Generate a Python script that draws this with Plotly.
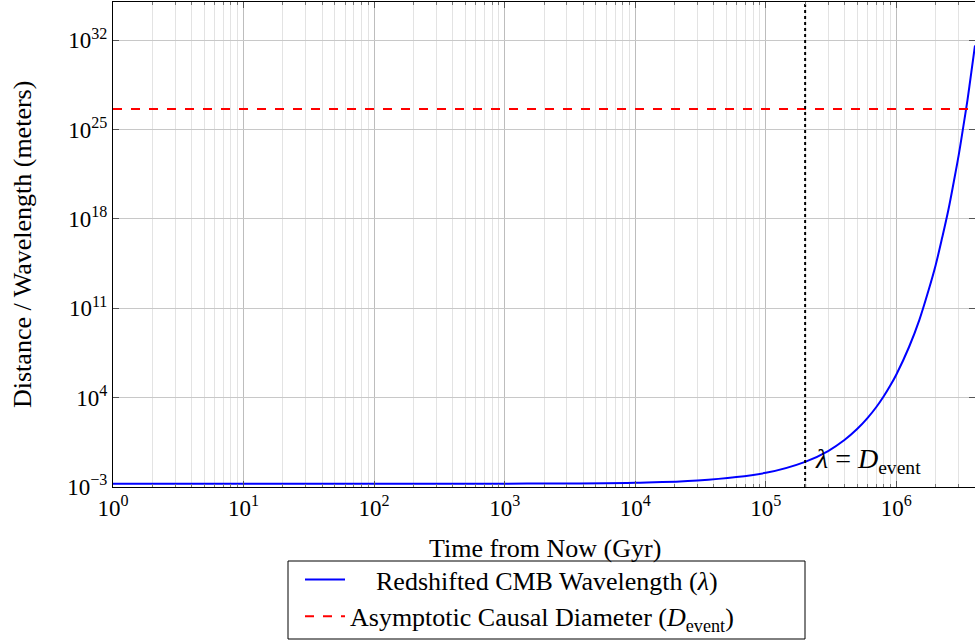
import math
import plotly.graph_objects as go

# Data
time_gyr = [1, 10, 100, 1000, 1e4, 3e4, 1e5, 2e5, 3e5, 4e5, 5e5, 6e5, 7e5, 8e5, 9e5,
            1e6, 1.25e6, 1.5e6, 1.75e6, 2e6, 2.25e6, 2.5e6, 2.75e6, 3e6, 3.25e6,
            3.5e6, 3.75e6, 4e6]
log_wavelength = [-2.75, -2.75, -2.75, -2.74, -2.66, -2.49, -1.89, -1.03, -0.18, 0.68,
                  1.54, 2.40, 3.25, 4.11, 4.97, 5.82, 7.97, 10.1, 12.3, 14.4, 16.6,
                  18.7, 20.9, 23.0, 25.2, 27.3, 29.5, 31.6]
wavelength_m = [10 ** v for v in log_wavelength]

d_event_m = 4.2e26
crossing_time_gyr = 2e5

x_range = [1, 4e6]
y_range = [1e-3, 1e35]

y_tick_vals = [1e-3, 1e4, 1e11, 1e18, 1e25, 1e32]
y_tick_text = ["10<sup>−3</sup>", "10<sup>4</sup>", "10<sup>11</sup>", "10<sup>18</sup>",
               "10<sup>25</sup>", "10<sup>32</sup>"]
x_tick_vals = [1, 10, 100, 1e3, 1e4, 1e5, 1e6]
x_tick_text = ["10<sup>0</sup>", "10<sup>1</sup>", "10<sup>2</sup>", "10<sup>3</sup>",
               "10<sup>4</sup>", "10<sup>5</sup>", "10<sup>6</sup>"]

x_title = "Time from Now (Gyr)"
y_title = "Distance / Wavelength (meters)"

FONT = "Liberation Serif"
NB = "\u00a0"

PL, PR, PT, PB, W, H = 113, 0, 2, 154, 975, 641
pw, ph = W - PL - PR, H - PT - PB


def px_x(v):
    return (v - PL) / pw


def px_y(v):
    return (H - PB - v) / ph


fig = go.Figure()

fig.add_trace(go.Scatter(
    x=time_gyr, y=wavelength_m, mode="lines",
    line=dict(color="#0000ff", width=2, shape="spline"),
    name=NB * 4 + "Redshifted CMB Wavelength (<i>λ</i>)",
))
fig.add_trace(go.Scatter(
    x=x_range, y=[d_event_m, d_event_m], mode="lines",
    line=dict(color="#ff0000", width=2, dash="dash"),
    name="Asymptotic Causal Diameter (<i>D</i><sub>event</sub>)",
))
fig.add_trace(go.Scatter(
    x=[crossing_time_gyr, crossing_time_gyr], y=y_range, mode="lines",
    line=dict(color="black", width=2, dash="dot"),
    showlegend=False,
))

fig.add_annotation(
    x=math.log10(crossing_time_gyr), y=-0.9, xref="x", yref="y",
    text="<i>λ</i> = <i>D</i><sub>event</sub>", showarrow=False,
    xanchor="left", yanchor="middle", xshift=8,
    font=dict(family=FONT, size=28, color="black"),
)
# axis titles
fig.add_annotation(
    x=px_x(545), y=px_y(548), xref="paper", yref="paper", text=x_title, showarrow=False,
    font=dict(family=FONT, size=26, color="black"),
    xanchor="center", yanchor="middle",
)
fig.add_annotation(
    x=px_x(22), y=px_y(245), xref="paper", yref="paper", text=y_title, showarrow=False,
    textangle=-90, font=dict(family=FONT, size=26, color="black"),
    xanchor="center", yanchor="middle",
)

# legend frame
fig.add_shape(
    type="rect", xref="paper", yref="paper",
    x0=px_x(288), x1=px_x(805), y0=px_y(639), y1=px_y(561),
    line=dict(color="black", width=1), fillcolor="rgba(0,0,0,0)", layer="above",
)

fig.update_xaxes(
    type="log", range=[math.log10(x_range[0]), math.log10(x_range[1])],
    tickvals=x_tick_vals, ticktext=x_tick_text,
    ticks="inside", ticklen=6, tickcolor="#555555",
    showline=True, linecolor="black", linewidth=1, mirror="allticks",
    showgrid=True, gridcolor="#bdbdbd", gridwidth=1,
    minor=dict(ticks="inside", ticklen=3, tickcolor="#777777", showgrid=True,
               gridcolor="#e3e3e3", gridwidth=1, dtick="D1"),
    tickfont=dict(family=FONT, size=23, color="black"),
    zeroline=False, automargin=False,
)
fig.update_yaxes(
    type="log", range=[math.log10(y_range[0]), math.log10(y_range[1])],
    tickvals=y_tick_vals, ticktext=y_tick_text,
    ticks="inside", ticklen=6, tickcolor="#555555",
    showline=True, linecolor="black", linewidth=1, mirror="allticks",
    showgrid=True, gridcolor="#c8c8c8", gridwidth=1,
    tickfont=dict(family=FONT, size=23, color="black"),
    zeroline=False, automargin=False,
)

fig.update_layout(
    width=W, height=H,
    margin=dict(l=PL, r=PR, t=PT, b=PB, autoexpand=False),
    paper_bgcolor="white", plot_bgcolor="white",
    font=dict(family=FONT, color="black"),
    legend=dict(
        x=px_x(300), xanchor="left", y=px_y(556), yanchor="top",
        orientation="v", bgcolor="rgba(0,0,0,0)", borderwidth=0,
        font=dict(family=FONT, size=26, color="black"),
        itemwidth=40, tracegroupgap=0,
    ),
    showlegend=True,
)

fig.write_html("out.html", config={"displayModeBar": False},
               post_script="document.body.style.margin='0px';document.body.style.overflow='hidden';")
